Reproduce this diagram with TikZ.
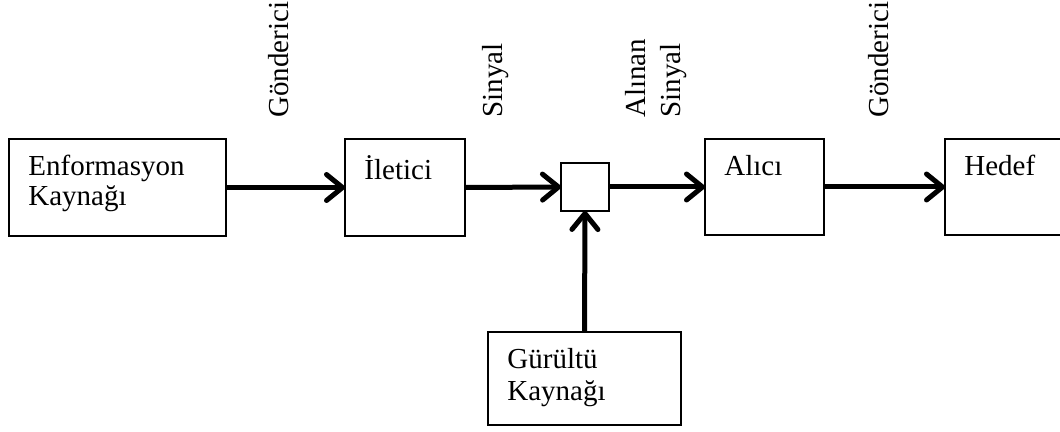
\documentclass[tikz,border=0pt]{standalone}
\usepackage{fontspec}
\setmainfont{Liberation Serif}
\usetikzlibrary{arrows.meta}

\tikzset{
    block/.style={draw, line width=1pt, inner sep=0pt, outer sep=0pt, anchor=north west},
    blocktext/.style={anchor=north west, inner sep=0pt, align=left, xshift=9.5pt, yshift=-8pt},
    flow/.style={line width=2.5pt, -{Straight Barb[length=8pt,width=13pt,round]}},
    tag/.style={rotate=90, anchor=base west, inner sep=0pt},
}

\begin{document}
\begin{tikzpicture}[x=0.5pt, y=-0.5pt, font=\fontsize{14.5pt}{15pt}\selectfont]
    \useasboundingbox (0,0) rectangle (1060,432);
    % Boxes
    \node[block, minimum width=108.5pt, minimum height=48.5pt,
          label={[blocktext]north west:{Enformasyon\\Kaynağı}}] (source) at (9,139) {};
    \node[block, minimum width=60pt, minimum height=48.5pt,
          label={[blocktext]north west:İletici}] (transmitter) at (345,139) {};
    \node[block, minimum width=24pt, minimum height=24pt] (mixer) at (561,163) {};
    \node[block, minimum width=59.5pt, minimum height=48pt,
          label={[blocktext]north west:Alıcı}] (receiver) at (705,139) {};
    \node[block, minimum width=61pt, minimum height=48pt,
          label={[blocktext]north west:Hedef}] (target) at (945,139) {};
    \node[block, minimum width=96.5pt, minimum height=46.5pt,
          label={[blocktext]north west:{Gürültü\\[1pt]Kaynağı}}] (noise) at (488,332) {};
    % Arrows
    \draw[flow] (source.east) -- (transmitter.west);
    \draw[flow] (transmitter.east) -- (mixer.west);
    \draw[flow] (mixer.east) -- (receiver.west);
    \draw[flow] (receiver.east) -- (target.west);
    \draw[flow] (noise.north) -- (mixer.south);
    % Labels
    \node[tag] (sendtag) at (288,118) {Gönderici};
    \node[tag] (signaltag) at (502,118) {Sinyal};
    \node[tag] (receivedtag) at (645,118) {Alınan};
    \node[tag] (receivedsignaltag) at (680,118) {Sinyal};
    \node[tag] (sendtagright) at (888,118) {Gönderici};
\end{tikzpicture}
\end{document}
